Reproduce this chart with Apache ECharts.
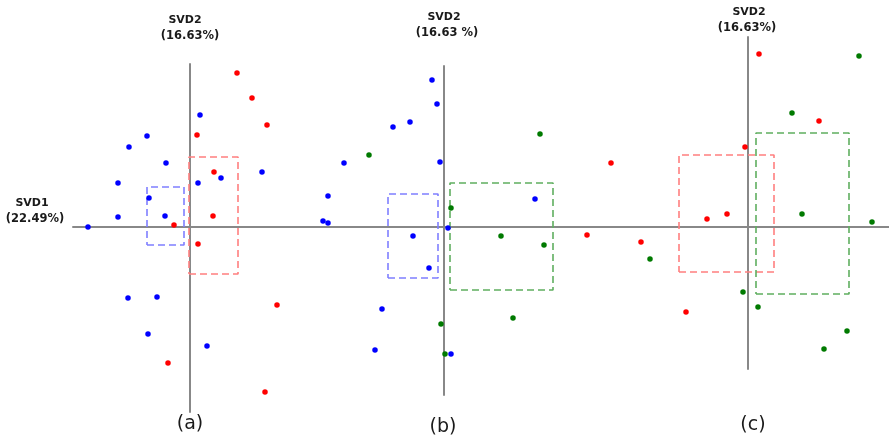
<!DOCTYPE html>
<html>
<head>
<meta charset="utf-8">
<script src="https://cdn.jsdelivr.net/npm/echarts@6/dist/echarts.min.js"></script>
<style>
  html, body { margin: 0; padding: 0; background: #fff; }
  #chart { width: 889px; height: 442px; }
</style>
</head>
<body>
<div id="chart"></div>
<script>
// SVD1 / SVD2 scores (arbitrary units)
const panelLabels = ["(a)", "(b)", "(c)"];
const svd2Labels = ["(16.63%)", "(16.63 %)", "(16.63%)"];

const aBlue = [
  [0.10, 1.12], [-0.43, 0.91], [-0.61, 0.80], [-0.24, 0.64], [-0.72, 0.44],
  [0.08, 0.44], [0.31, 0.49], [0.72, 0.55], [-0.41, 0.29], [-0.72, 0.10],
  [-0.25, 0.11], [-1.02, 0.00], [-0.62, -0.71], [-0.33, -0.70], [-0.42, -1.07],
  [0.17, -1.19],
];
const aRed = [
  [0.47, 1.54], [0.62, 1.29], [0.77, 1.02], [0.07, 0.92], [0.24, 0.55],
  [0.23, 0.11], [-0.16, 0.02], [0.08, -0.17], [0.87, -0.78], [-0.22, -1.36],
  [0.75, -1.65],
];
const bBlue = [
  [-0.12, 1.47], [-0.07, 1.23], [-0.51, 1.00], [-0.34, 1.05], [-1.00, 0.64],
  [-0.04, 0.65], [-1.16, 0.31], [0.91, 0.28], [-1.21, 0.06], [-1.16, 0.04],
  [0.04, -0.01], [-0.31, -0.09], [-0.15, -0.41], [-0.62, -0.82], [-0.69, -1.23],
  [0.07, -1.27],
];
const bGreen = [
  [-0.75, 0.72], [0.96, 0.93], [0.07, 0.19], [0.57, -0.09], [1.00, -0.18],
  [-0.03, -0.97], [0.69, -0.91], [0.01, -1.27],
];
const cRed = [
  [0.11, 1.73], [0.71, 1.06], [-0.03, 0.80], [-1.37, 0.64], [-0.21, 0.13],
  [-0.41, 0.08], [-1.61, -0.08], [-1.07, -0.15], [-0.62, -0.85],
];
const cGreen = [
  [1.11, 1.71], [0.44, 1.14], [0.54, 0.13], [1.24, 0.05], [-0.98, -0.32],
  [-0.05, -0.65], [0.10, -0.80], [0.99, -1.04], [0.76, -1.22],
];

// cluster boxes: [xMin, xMax, yMin, yMax]
const aBlueBox = [-0.43, -0.06, -0.18, 0.40];
const aRedBox = [-0.01, 0.48, -0.47, 0.70];
const bBlueBox = [-0.56, -0.06, -0.51, 0.33];
const bGreenBox = [0.06, 1.09, -0.63, 0.44];
const cRedBox = [-0.69, 0.26, -0.45, 0.72];
const cGreenBox = [0.08, 1.01, -0.67, 0.94];

const BLUE = "#0000ff";
const RED = "#ff0000";
const GREEN = "#007a00";

function boxPath(b) {
  return [[b[0], b[2]], [b[1], b[2]], [b[1], b[3]], [b[0], b[3]], [b[0], b[2]]];
}

function dots(data, color, idx) {
  return {
    type: "scatter",
    xAxisIndex: idx,
    yAxisIndex: idx,
    data: data,
    symbolSize: 5.5,
    clip: false,
    itemStyle: { color: color, opacity: 1 },
    z: 5,
  };
}

function box(b, color, idx) {
  return {
    type: "line",
    xAxisIndex: idx,
    yAxisIndex: idx,
    data: boxPath(b),
    showSymbol: false,
    silent: true,
    clip: false,
    lineStyle: { color: color, width: 1.6, type: [7, 4] },
    z: 4,
  };
}

const axisStyle = { show: true, onZero: true, lineStyle: { color: "#888888", width: 2 } };
function axis(min, max, idx) {
  return {
    type: "value",
    gridIndex: idx,
    min: min,
    max: max,
    axisLine: axisStyle,
    axisTick: { show: false },
    axisLabel: { show: false },
    splitLine: { show: false },
  };
}

const chart = echarts.init(document.getElementById("chart"));

const boldText = { fontFamily: "DejaVu Sans", fontWeight: "bold", fill: "#1a1a1a", textAlign: "center", textVerticalAlign: "middle" };
function label(text, x, y, size, extra) {
  return { type: "text", style: Object.assign({}, boldText, { text: text, x: x, y: y, fontSize: size }, extra || {}) };
}

chart.setOption({
  animation: false,
  backgroundColor: "#fff",
  grid: [
    { left: 73, top: 64, width: 243, height: 348 },
    { left: 316, top: 66, width: 259, height: 329 },
    { left: 575, top: 37, width: 314, height: 332 },
  ],
  xAxis: [axis(-1.17, 1.26, 0), axis(-1.28, 1.31, 1), axis(-1.73, 1.41, 2)],
  yAxis: [axis(-1.85, 1.63, 0), axis(-1.68, 1.61, 1), axis(-1.42, 1.90, 2)],
  series: [
    box(aBlueBox, "#7f7fff", 0),
    box(aRedBox, "#ff7f7f", 0),
    dots(aBlue, BLUE, 0),
    dots(aRed, RED, 0),
    box(bBlueBox, "#7f7fff", 1),
    box(bGreenBox, "#5fae5f", 1),
    dots(bBlue, BLUE, 1),
    dots(bGreen, GREEN, 1),
    box(cRedBox, "#ff7f7f", 2),
    box(cGreenBox, "#5fae5f", 2),
    dots(cRed, RED, 2),
    dots(cGreen, GREEN, 2),
  ],
  graphic: [
    label("SVD2", 185, 20, 11),
    label(svd2Labels[0], 190, 36, 11.5),
    label("SVD2", 444, 17, 11),
    label(svd2Labels[1], 447, 33, 11.5),
    label("SVD2", 749, 12, 11),
    label(svd2Labels[2], 747, 28, 11.5),
    label("SVD1", 32, 203, 11),
    label("(22.49%)", 35, 219, 11.5),
    label(panelLabels[0], 190, 424, 19, { fontWeight: "normal" }),
    label(panelLabels[1], 443, 427, 19, { fontWeight: "normal" }),
    label(panelLabels[2], 753, 425, 19, { fontWeight: "normal" }),
  ],
});
</script>
</body>
</html>
